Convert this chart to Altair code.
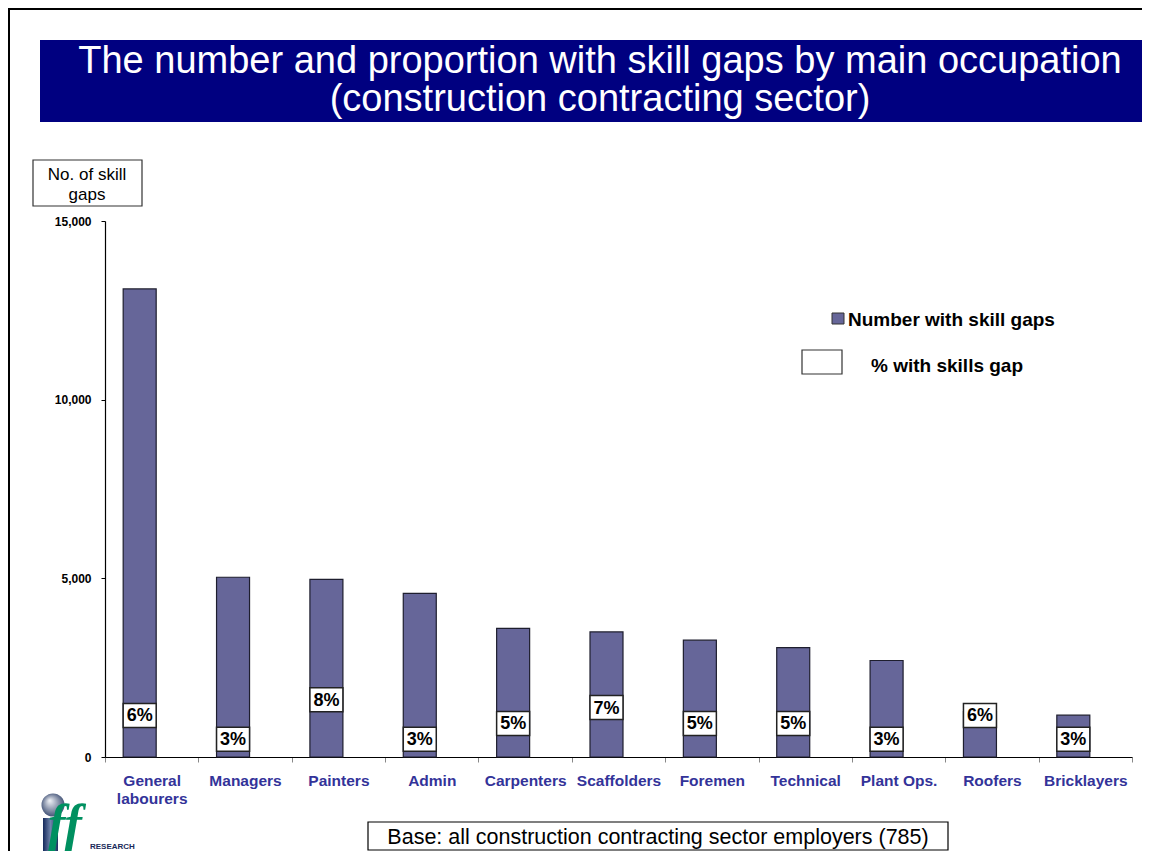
import altair as alt
import pandas as pd

# ---------------- data ----------------
occupations = ["General labourers", "Managers", "Painters", "Admin", "Carpenters",
               "Scaffolders", "Foremen", "Technical", "Plant Ops.", "Roofers", "Bricklayers"]
skill_gaps = [13100, 5030, 4970, 4580, 3600, 3500, 3270, 3060, 2700, 1270, 1170]
pct_gaps = [6, 3, 8, 3, 5, 7, 5, 5, 3, 6, 3]
y_ticks = [0, 5000, 10000, 15000]

title_lines = ["The number and proportion with skill gaps by main occupation",
               "(construction contracting sector)"]
y_title_lines = ["No. of skill", "gaps"]
legend_bar = "Number with skill gaps"
legend_pct = "% with skills gap"
base_note = "Base: all construction contracting sector employers (785)"

df = pd.DataFrame({"occupation": occupations, "gaps": skill_gaps, "pct": pct_gaps})
df["pct_label"] = [f"{p}%" for p in pct_gaps]

FONT = "Liberation Sans"
BAR = "#666699"
NAVY = "#000080"

x_enc = alt.X(
    "occupation:N", sort=occupations,
    scale=alt.Scale(paddingInner=0, paddingOuter=0),
    axis=alt.Axis(
        title=None, labelAngle=0, labelFontSize=15.5, labelFontWeight="bold",
        labelColor="#333399", labelFont=FONT, labelPadding=11, labelLineHeight=18,
        labelExpr="datum.label == 'General labourers' ? ['General', 'labourers'] : datum.label",
        tickBand="extent", tickColor="#888888", tickSize=5, domainColor="black",
        domainWidth=1.2, grid=False,
    ),
)

bars = alt.Chart(df).mark_bar(
    size=33, xOffset=-12, color=BAR, stroke="#1e1e2e", strokeWidth=1.2
).encode(
    x=x_enc,
    y=alt.Y("gaps:Q", scale=alt.Scale(domain=[0, 15000], nice=False),
            axis=alt.Axis(values=y_ticks, format=",d", title=None, labelFontSize=12,
                          labelFontWeight="bold", labelFont=FONT, labelColor="black",
                          tickColor="black", tickSize=4, labelPadding=10,
                          domainColor="black", domainWidth=1.2, grid=False)),
)

pct_y = alt.Y("pct:Q", scale=alt.Scale(domain=[0.75, 68.5], nice=False, zero=False), axis=None)
box_path = "M-1.375,-1H1.375V1H-1.375Z"

pbox = alt.Chart(df).mark_point(
    shape=box_path, size=576, filled=True, color="white", stroke="#222222",
    strokeWidth=1.5, opacity=1, xOffset=-12
).encode(x=x_enc, y=pct_y)

ptext = alt.Chart(df).mark_text(
    font=FONT, fontSize=18, fontWeight="bold", color="black", xOffset=-12,
    baseline="middle", dy=1
).encode(x=x_enc, y=pct_y, text="pct_label:N")

one = alt.InlineData(values=[{"k": 1}])


def rect(x, x2, y, y2, **kw):
    return alt.Chart(one).mark_rect(**kw).encode(
        x=alt.value(x), x2=alt.value(x2), y=alt.value(y), y2=alt.value(y2))


def label(x, y, t, **kw):
    return alt.Chart(one).mark_text(**kw).encode(
        x=alt.value(x), y=alt.value(y), text=alt.value(t))


decor = [
    # slide border (top and left)
    alt.Chart(one).mark_rule(color="black", strokeWidth=2).encode(
        x=alt.value(-97), x2=alt.value(1040), y=alt.value(-212)),
    alt.Chart(one).mark_rule(color="black", strokeWidth=2).encode(
        x=alt.value(-96), y=alt.value(-213), y2=alt.value(640)),
    # title banner
    rect(-65, 1045, -181, -99, color=NAVY),
    label(495, -148, title_lines[0], font=FONT, fontSize=38, color="white",
          align="center", baseline="alphabetic"),
    label(495, -110, title_lines[1], font=FONT, fontSize=38, color="white",
          align="center", baseline="alphabetic"),
    # y-axis title box
    rect(-72, 37, -61, -15, fill="white", stroke="#333333", strokeWidth=1.2),
    label(-18, -41, y_title_lines, font=FONT, fontSize=17, color="black",
          align="center", baseline="alphabetic", lineHeight=20),
    # legend
    rect(727, 739, 92, 103, color=BAR, stroke="#333333", strokeWidth=1),
    label(743, 105, legend_bar, font=FONT, fontSize=19, fontWeight="bold",
          color="black", align="left", baseline="alphabetic"),
    rect(697, 737, 129, 153, fill="white", stroke="#333333", strokeWidth=1.2),
    label(766, 151, legend_pct, font=FONT, fontSize=19, fontWeight="bold",
          color="black", align="left", baseline="alphabetic"),
    # base note
    rect(263, 843, 601, 629, fill="white", stroke="black", strokeWidth=1.2),
    label(553, 623, base_note, font=FONT, fontSize=21.5, color="black",
          align="center", baseline="alphabetic"),
    # logo (approximation)
    rect(-62, -47, 597, 640, color={"gradient": "linear", "stops": [
        {"offset": 0, "color": "#14285a"}, {"offset": 0.5, "color": "#7084ab"},
        {"offset": 1, "color": "#1c3060"}]}),
    alt.Chart(one).mark_point(shape="circle", size=529, filled=True, opacity=1, color={
        "gradient": "radial", "x1": 0.35, "y1": 0.3, "r1": 0, "x2": 0.5, "y2": 0.5, "r2": 0.6,
        "stops": [{"offset": 0, "color": "#f3f5f9"}, {"offset": 1, "color": "#2c3e66"}]}
    ).encode(x=alt.value(-52), y=alt.value(584)),
    label(-57, 620, "ff", font="Liberation Serif", fontSize=52, fontStyle="italic",
          fontWeight="bold", color="#009060", align="left", baseline="alphabetic"),
    label(-15, 628, "RESEARCH", font=FONT, fontSize=8, fontWeight="bold",
          color="#1a2a5a", align="left", baseline="alphabetic"),
]

chart = alt.layer(bars, pbox, ptext, *decor).resolve_scale(y="independent").properties(
    width=1027, height=536,
    padding={"left": 97, "top": 213, "right": 10, "bottom": 94},
    autosize=alt.AutoSizeParams(type="none"),
    background="white",
).configure_view(stroke=None)

chart.save("out.html", embed_options={"renderer": "svg", "actions": False})
